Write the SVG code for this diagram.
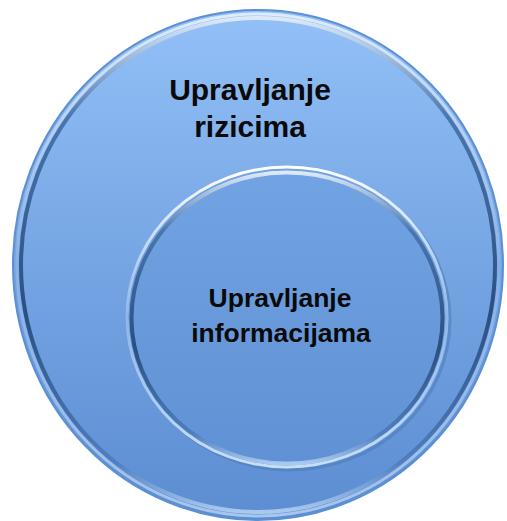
<svg xmlns="http://www.w3.org/2000/svg" width="507" height="521" viewBox="0 0 507 521">
<defs>
<linearGradient id="fillOuter" x1="0" y1="0" x2="0" y2="1">
<stop offset="0" stop-color="#93c0f7"/>
<stop offset="0.5" stop-color="#75a5e3"/>
<stop offset="1" stop-color="#5c8dd2"/>
</linearGradient>
<linearGradient id="fillInner" x1="0" y1="0" x2="0" y2="1">
<stop offset="0" stop-color="#72a3e2"/>
<stop offset="1" stop-color="#5f91d4"/>
</linearGradient>
<linearGradient id="rim" x1="0" y1="0" x2="0" y2="1">
<stop offset="0" stop-color="#dce9f7"/>
<stop offset="0.2" stop-color="#4a76ae"/>
<stop offset="0.6" stop-color="#2a4f82"/>
<stop offset="0.9" stop-color="#4f7fbf"/>
<stop offset="1" stop-color="#a9c9f0"/>
</linearGradient>
<linearGradient id="rimLight" x1="0" y1="0" x2="0" y2="1">
<stop offset="0" stop-color="#ffffff"/>
<stop offset="0.5" stop-color="#8db6ea"/>
<stop offset="1" stop-color="#c9def6"/>
</linearGradient>
</defs>
<style>
.lbl{font-family:"Liberation Sans",Arial,sans-serif;font-weight:bold;fill:#0a0a0a;text-anchor:middle}
</style>
<g id="outer">
<ellipse cx="258" cy="265" rx="245" ry="255" fill="url(#fillOuter)" stroke="#5d8fd3" stroke-width="2"/>
<ellipse cx="258" cy="265" rx="241" ry="251" fill="none" stroke="url(#rimLight)" stroke-width="3" opacity="0.7"/>
<ellipse cx="258" cy="265" rx="237" ry="247" fill="none" stroke="url(#rim)" stroke-width="4"/>
<text class="lbl" x="250" y="100" font-size="30">Upravljanje</text>
<text class="lbl" x="250" y="137" font-size="30">rizicima</text>
</g>
<g id="inner">
<ellipse cx="290" cy="320" rx="160" ry="150" fill="none" stroke="#4a78b5" stroke-width="3" opacity="0.5"/>
<ellipse cx="287" cy="317" rx="160" ry="150" fill="url(#fillInner)" stroke="url(#rimLight)" stroke-width="3"/>
<ellipse cx="287" cy="318" rx="155.5" ry="145.5" fill="none" stroke="url(#rim)" stroke-width="4"/>
<text class="lbl" x="280" y="307" font-size="26.5">Upravljanje</text>
<text class="lbl" x="281" y="342" font-size="26.5">informacijama</text>
</g>
<g id="connectors"/>
</svg>
